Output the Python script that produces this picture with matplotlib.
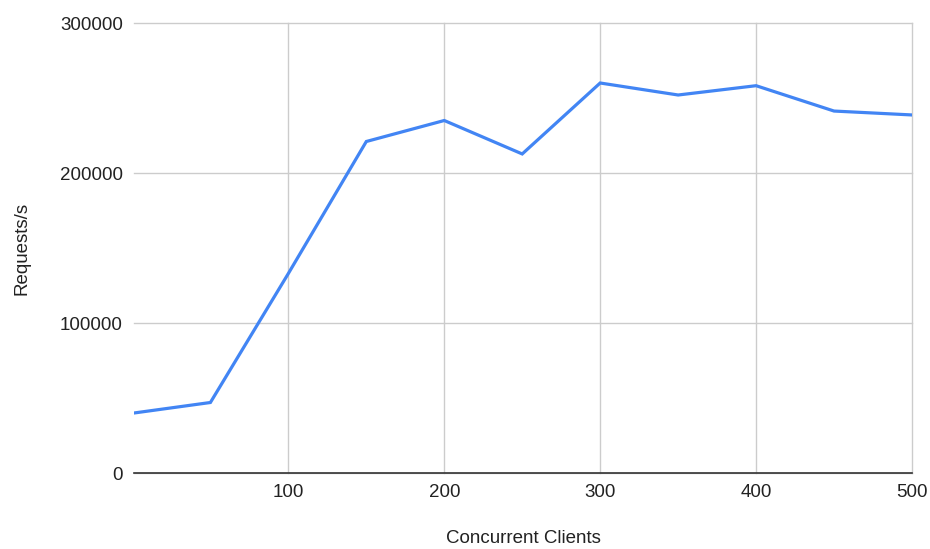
import matplotlib
matplotlib.use('Agg')
import matplotlib.pyplot as plt

# data
clients = [1, 50, 100, 150, 200, 250, 300, 350, 400, 450, 500]
requests = [40000, 47000, 133000, 221000, 235000, 212700, 260000, 252000, 258200, 241300, 238700]
x_ticks = [100, 200, 300, 400, 500]
y_ticks = [0, 100000, 200000, 300000]

plt.rcParams['font.family'] = ['Liberation Sans', 'DejaVu Sans']

fig = plt.figure(figsize=(9.3, 5.49), dpi=100)
ax = fig.add_axes([134 / 930, 1 - 473 / 549, (912 - 134) / 930, (473 - 23) / 549])

ax.plot(clients, requests, color='#4285f4', linewidth=2.3, solid_joinstyle='miter', zorder=3)

ax.set_xlim(1, 500)
ax.set_ylim(0, 300000)
ax.set_xticks(x_ticks)
ax.set_yticks(y_ticks)
ax.set_xticklabels([str(t) for t in x_ticks])
ax.set_yticklabels([str(t) for t in y_ticks])

ax.grid(True, color='#cccccc', linewidth=1)
for gl in ax.get_xgridlines() + ax.get_ygridlines():
    gl.set_clip_on(False)
ax.set_axisbelow(True)
for s in ['top', 'right', 'left']:
    ax.spines[s].set_visible(False)
ax.spines['bottom'].set_color('#333333')
ax.spines['bottom'].set_linewidth(1.2)
ax.spines['bottom'].set_zorder(4)

ax.tick_params(length=0, labelsize=13.5, colors='#222222')
ax.tick_params(axis='y', pad=8)
ax.tick_params(axis='x', pad=8)

ax.set_xlabel('Concurrent Clients', fontsize=13.5, color='#222222', labelpad=21)
ax.set_ylabel('Requests/s', fontsize=13.5, color='#222222', labelpad=21)

fig.savefig('out.png', dpi=100, facecolor='white')
